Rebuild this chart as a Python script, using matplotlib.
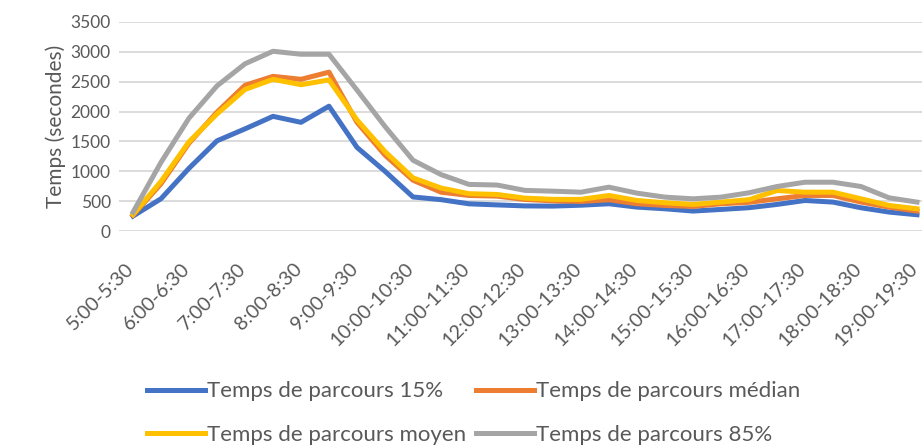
import matplotlib.pyplot as plt
from matplotlib.transforms import ScaledTranslation

plt.rcParams['font.family'] = ['Lato', 'DejaVu Sans']

# half-hour slots 5:00-5:30 ... 19:00-19:30
slots = []
for h in range(5, 20):
    slots.append('%d:00-%d:30' % (h, h))
    if h < 19:
        slots.append('%d:30-%d:00' % (h, h + 1))

p15 = [250, 540, 1050, 1510, 1710, 1920, 1820, 2090, 1400, 1000,
       570, 525, 455, 437, 420, 417, 432, 456, 400, 372,
       334, 361, 390, 445, 511, 484, 389, 317, 272]
median = [265, 790, 1470, 1990, 2440, 2590, 2540, 2660, 1820, 1270,
          850, 650, 595, 584, 528, 505, 495, 523, 456, 428,
          411, 456, 480, 539, 595, 595, 484, 400, 334]
moyen = [275, 830, 1495, 1960, 2370, 2540, 2450, 2530, 1860, 1330,
         890, 720, 625, 612, 550, 530, 530, 595, 511, 473,
         445, 484, 525, 678, 650, 650, 539, 428, 372]
p85 = [315, 1150, 1890, 2430, 2800, 3010, 2960, 2960, 2360, 1750,
       1185, 945, 780, 770, 680, 667, 650, 734, 634, 567,
       539, 567, 640, 745, 817, 817, 745, 556, 484]

series = [
    ('Temps de parcours 15%', p15, '#4472C4'),
    ('Temps de parcours médian', median, '#ED7D31'),
    ('Temps de parcours moyen', moyen, '#FFC000'),
    ('Temps de parcours 85%', p85, '#A5A5A5'),
]

fig = plt.figure(figsize=(9.22, 4.45), dpi=100)
ax = fig.add_axes([119 / 922, 1 - 231 / 445, 812 / 922, 209 / 445])

x = list(range(len(slots)))
lines = {}
for name, vals, col in series:
    lines[name], = ax.plot(x, vals, color=col, lw=3.6, label=name,
                           solid_joinstyle='round')

ax.set_xlim(-0.5, len(slots) - 0.5)
ax.set_ylim(0, 3500)
ax.set_yticks(range(0, 3501, 500))
ax.yaxis.grid(True, color='#d9d9d9', lw=1.3)
ax.set_axisbelow(True)
for s in ax.spines.values():
    s.set_visible(False)
ax.tick_params(length=0, colors='#595959', labelsize=12.5)
ax.tick_params(axis='y', pad=6)
ax.tick_params(axis='x', pad=21, labelsize=14.2)

ax.set_xticks(x[::2])
ax.set_xticklabels(slots[::2], rotation=45, ha='right', rotation_mode='anchor')
# nudge the slanted labels a little left so the last one stays inside
shift = ScaledTranslation(-8 / 100, 0, fig.dpi_scale_trans)
for lbl in ax.get_xticklabels():
    lbl.set_transform(lbl.get_transform() + shift)
ax.set_ylabel('Temps (secondes)', fontsize=15, color='#595959', labelpad=3)

# legend fills column-first, so order for rows: 15% | médian / moyen | 85%
order = ['Temps de parcours 15%', 'Temps de parcours moyen',
         'Temps de parcours médian', 'Temps de parcours 85%']
fig.legend([lines[n] for n in order], order, loc='center',
           bbox_to_anchor=(474 / 922, 1 - 413 / 445), ncol=2,
           frameon=False, fontsize=16, handlelength=2.6, handletextpad=0.1,
           columnspacing=0.45, labelspacing=1.05, labelcolor='#595959')

fig.savefig('out.png', dpi=100)
